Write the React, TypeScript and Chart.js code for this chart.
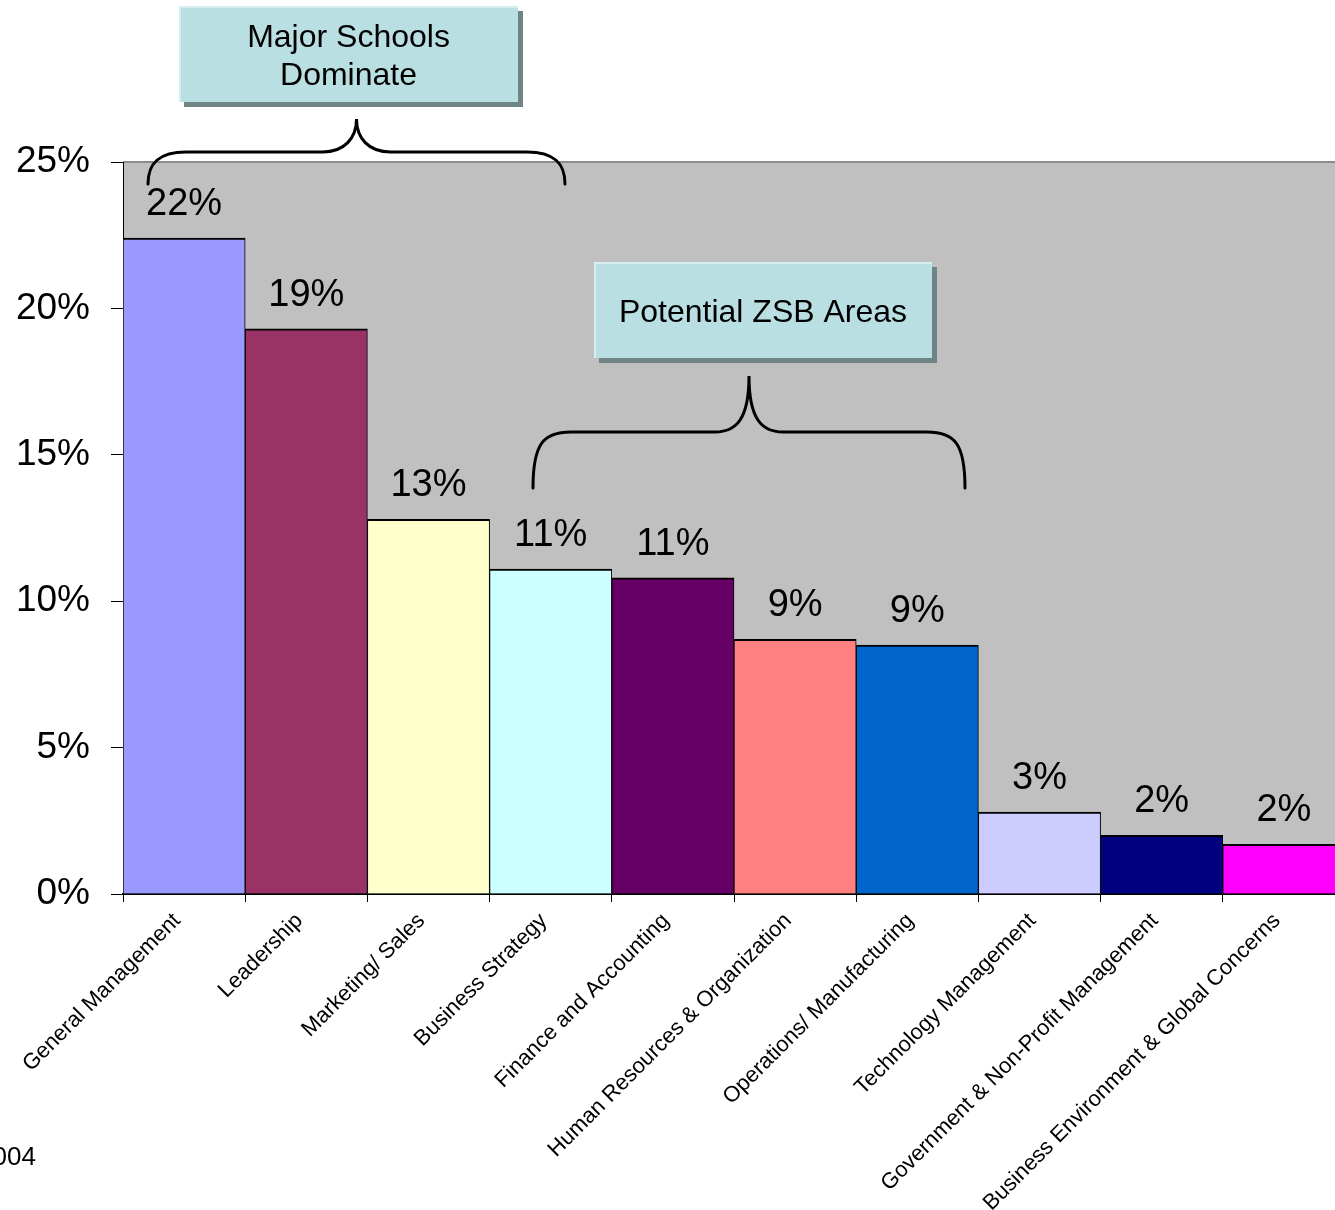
import React, { useEffect, useRef } from "react";
import { Chart, registerables } from "chart.js";

Chart.register(...registerables);

const FONT = "'Liberation Sans', Arial, Helvetica, sans-serif";

const categories = [
  "General Management",
  "Leadership",
  "Marketing/ Sales",
  "Business Strategy",
  "Finance and Accounting",
  "Human Resources & Organization",
  "Operations/ Manufacturing",
  "Technology Management",
  "Government & Non-Profit Management",
  "Business Environment & Global Concerns",
];

const shares = [0.224, 0.193, 0.128, 0.111, 0.108, 0.087, 0.085, 0.028, 0.02, 0.017];

const valueLabels = ["22%", "19%", "13%", "11%", "11%", "9%", "9%", "3%", "2%", "2%"];

const barColors = [
  "#9999FF",
  "#993366",
  "#FFFFCC",
  "#CCFFFF",
  "#660066",
  "#FF8080",
  "#0066CC",
  "#CCCCFF",
  "#000080",
  "#FF00FF",
];

const yMin = 0;
const yMax = 0.25;
const yStep = 0.05;

const calloutMajor = ["Major Schools", "Dominate"];
const calloutZsb = ["Potential ZSB Areas"];
const footnote = "2004";

function drawBox(ctx: CanvasRenderingContext2D, x: number, y: number, w: number, h: number, lines: string[], lineYs: number[]) {
  ctx.save();
  ctx.fillStyle = "#6F8585";
  ctx.fillRect(x + 5, y + 5, w, h);
  ctx.fillStyle = "#B9DFE2";
  ctx.fillRect(x, y, w, h);
  ctx.fillStyle = "#D6EEF0";
  ctx.fillRect(x, y, w, 2);
  ctx.fillRect(x, y, 2, h);
  ctx.fillStyle = "#000";
  ctx.font = `32px ${FONT}`;
  ctx.textAlign = "center";
  ctx.textBaseline = "middle";
  lines.forEach((t, i) => ctx.fillText(t, x + w / 2, lineYs[i]));
  ctx.restore();
}

function drawBrace(ctx: CanvasRenderingContext2D, x0: number, x1: number, yEnd: number, yH: number, yPeak: number) {
  const xm = (x0 + x1) / 2;
  const rx = 38;
  const cx = 34;
  ctx.save();
  ctx.strokeStyle = "#000";
  ctx.lineWidth = 3;
  ctx.lineCap = "round";
  ctx.beginPath();
  ctx.moveTo(x0, yEnd);
  ctx.bezierCurveTo(x0, yH + 12, x0 + 10, yH, x0 + rx, yH);
  ctx.lineTo(xm - cx, yH);
  ctx.bezierCurveTo(xm - 12, yH, xm, yH - 14, xm, yPeak);
  ctx.bezierCurveTo(xm, yH - 14, xm + 12, yH, xm + cx, yH);
  ctx.lineTo(x1 - rx, yH);
  ctx.bezierCurveTo(x1 - 10, yH, x1, yH + 12, x1, yEnd);
  ctx.stroke();
  ctx.restore();
}

const decorPlugin = {
  id: "decor",
  beforeDraw(chart: any) {
    const { ctx, chartArea: a } = chart;
    ctx.save();
    ctx.fillStyle = "#fff";
    ctx.fillRect(0, 0, chart.width, chart.height);
    ctx.fillStyle = "#C0C0C0";
    ctx.fillRect(a.left, a.top, a.right - a.left, a.bottom - a.top);
    ctx.fillStyle = "#8C8C8C";
    ctx.fillRect(a.left, a.top - 1, a.right - a.left, 2);
    ctx.restore();
  },
  afterDatasetsDraw(chart: any) {
    const { ctx } = chart;
    const meta = chart.getDatasetMeta(0);
    ctx.save();
    ctx.fillStyle = "#000";
    ctx.font = `38px ${FONT}`;
    ctx.textAlign = "center";
    ctx.textBaseline = "alphabetic";
    meta.data.forEach((el: any, i: number) => {
      ctx.fillText(valueLabels[i], el.x, el.y - 23);
    });
    ctx.restore();
  },
  afterDraw(chart: any) {
    const { ctx } = chart;
    drawBrace(ctx, 148, 565, 184, 152, 119);
    drawBrace(ctx, 533, 965, 488, 432, 376);
    drawBox(ctx, 179, 6, 339, 96, calloutMajor, [38, 76]);
    drawBox(ctx, 594, 262, 338, 96, calloutZsb, [313]);
    ctx.save();
    ctx.fillStyle = "#000";
    ctx.font = `26px ${FONT}`;
    ctx.textAlign = "right";
    ctx.textBaseline = "alphabetic";
    ctx.fillText(footnote, 36, 1165);
    ctx.restore();
  },
};

export default function App() {
  const ref = useRef<HTMLCanvasElement | null>(null);

  useEffect(() => {
    document.body.style.margin = "0";
    const canvas = ref.current;
    if (!canvas) return;
    const chart = new Chart(canvas, {
      type: "bar",
      data: {
        labels: categories,
        datasets: [
          {
            data: shares,
            backgroundColor: barColors,
            borderColor: "#000",
            borderWidth: { top: 2, left: 1, right: 1, bottom: 0 } as any,
            barPercentage: 1,
            categoryPercentage: 1,
          },
        ],
      },
      options: {
        responsive: false,
        animation: false,
        devicePixelRatio: 1,
        layout: { padding: { top: 162, left: 0, right: 0, bottom: 0 } },
        plugins: {
          legend: { display: false },
          tooltip: { enabled: false },
          title: { display: false },
        },
        scales: {
          x: {
            offset: true,
            grid: {
              display: true,
              drawOnChartArea: false,
              drawTicks: true,
              tickLength: 8,
              color: "#000",
              lineWidth: 1,
              offset: true,
            },
            border: { display: true, color: "#000", width: 2 },
            ticks: {
              autoSkip: false,
              maxRotation: 45,
              minRotation: 45,
              padding: 6,
              labelOffset: -7,
              color: "#000",
              font: { family: FONT, size: 22 },
            },
            afterFit: (scale: any) => {
              scale.height = 316;
            },
          },
          y: {
            min: yMin,
            max: yMax,
            grid: {
              display: true,
              drawOnChartArea: false,
              drawTicks: true,
              tickLength: 12,
              color: "#000",
              lineWidth: 1,
            },
            border: { display: true, color: "#000", width: 1 },
            ticks: {
              stepSize: yStep,
              padding: 21,
              color: "#000",
              font: { family: FONT, size: 37 },
              callback: (v: any) => `${Math.round(Number(v) * 100)}%`,
            },
            afterFit: (scale: any) => {
              scale.width = 123;
            },
          },
        },
      },
      plugins: [decorPlugin],
    });
    return () => chart.destroy();
  }, []);

  return (
    <div style={{ position: "absolute", left: 0, top: 0, width: 1335, height: 1210, background: "#fff", overflow: "hidden" }}>
      <canvas ref={ref} width={1345} height={1210} style={{ display: "block", width: 1345, height: 1210 }} />
    </div>
  );
}
